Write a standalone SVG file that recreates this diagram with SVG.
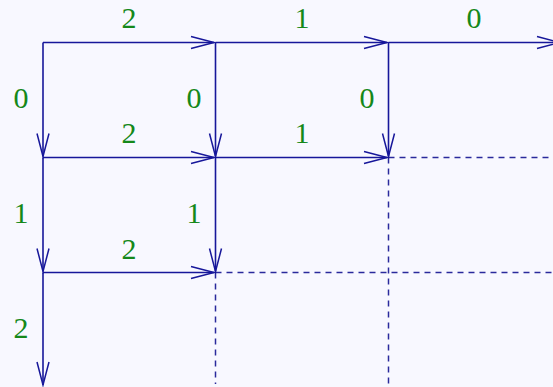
<svg xmlns="http://www.w3.org/2000/svg" width="553" height="387" viewBox="0 0 553 387">
<defs>
<marker id="arr" viewBox="-25 -8 27 16" markerWidth="27" markerHeight="16" refX="0" refY="0" orient="auto" markerUnits="userSpaceOnUse">
<path d="M-23,-6 L0,0 L-23,6" fill="none" stroke="#17179a" stroke-width="1.5"/>
</marker>
</defs>
<style>
.e{stroke:#17179a;stroke-width:1.6;fill:none}
.a{marker-end:url(#arr)}
.d{stroke:#2a2a9c;stroke-width:1.5;fill:none;stroke-dasharray:6 5}
.l{font-family:"Liberation Serif","DejaVu Serif",serif;font-size:30px;fill:#15881a;text-anchor:middle}
</style>
<rect width="553" height="387" fill="#f8f8ff"/>
<g id="connectors">
<line class="d" x1="388.5" y1="157.5" x2="553" y2="157.5"/>
<line class="d" x1="215.5" y1="272.5" x2="553" y2="272.5"/>
<line class="d" x1="215.5" y1="272.5" x2="215.5" y2="384"/>
<line class="d" x1="388.5" y1="157.5" x2="388.5" y2="384"/>
<line class="e a" x1="43" y1="42.5" x2="214" y2="42.5"/>
<line class="e a" x1="215.5" y1="42.5" x2="387" y2="42.5"/>
<line class="e a" x1="388.5" y1="42.5" x2="560" y2="42.5"/>
<line class="e a" x1="43" y1="157.5" x2="214" y2="157.5"/>
<line class="e a" x1="215.5" y1="157.5" x2="387" y2="157.5"/>
<line class="e a" x1="43" y1="272.5" x2="214" y2="272.5"/>
<line class="e a" x1="43" y1="42.5" x2="43" y2="156.5"/>
<line class="e a" x1="43" y1="157.5" x2="43" y2="271.5"/>
<line class="e a" x1="43" y1="272.5" x2="43" y2="385"/>
<line class="e a" x1="215.5" y1="42.5" x2="215.5" y2="156.5"/>
<line class="e a" x1="215.5" y1="157.5" x2="215.5" y2="271.5"/>
<line class="e a" x1="388.5" y1="42.5" x2="388.5" y2="156.5"/>
</g>
<g id="labels">
<text class="l" x="129" y="28">2</text>
<text class="l" x="302" y="28">1</text>
<text class="l" x="474" y="28">0</text>
<text class="l" x="129" y="143">2</text>
<text class="l" x="302" y="143">1</text>
<text class="l" x="129" y="259">2</text>
<text class="l" x="21" y="108">0</text>
<text class="l" x="194" y="108">0</text>
<text class="l" x="367" y="108">0</text>
<text class="l" x="21" y="223">1</text>
<text class="l" x="194" y="223">1</text>
<text class="l" x="21" y="338">2</text>
</g>
</svg>
